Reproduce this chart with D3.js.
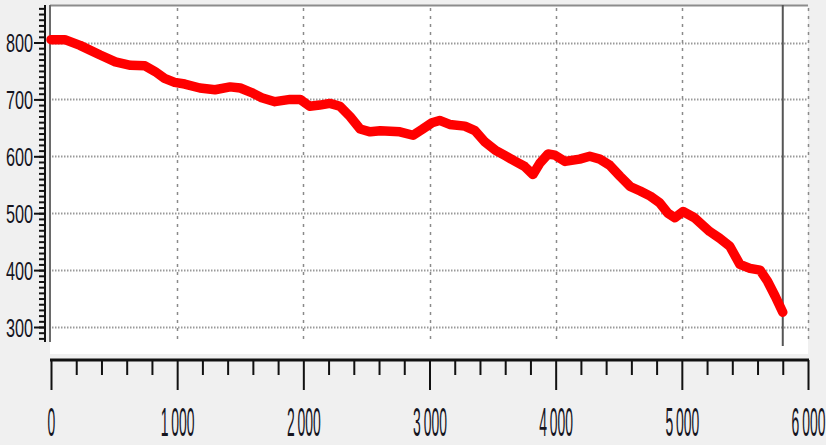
<!DOCTYPE html>
<html>
<head>
<meta charset="utf-8">
<style>
  body { margin: 0; background: #f0f0f0; }
  svg { display: block; }
</style>
</head>
<body>
<script src="https://d3js.org/d3.v7.min.js"></script>
<script>
// distance along the profile and the measured value at each point
const distance = [0, 110, 230, 390, 510, 630, 745, 825, 900, 980, 1060, 1180, 1300, 1420, 1500,
  1590, 1670, 1775, 1895, 1975, 2050, 2130, 2210, 2290, 2370, 2450, 2530, 2610, 2765, 2870,
  2940, 3020, 3080, 3160, 3280, 3360, 3440, 3520, 3600, 3680, 3755, 3820, 3875, 3940, 3995,
  4075, 4190, 4270, 4350, 4430, 4510, 4590, 4670, 4750, 4825, 4890, 4945, 5010, 5100, 5220,
  5300, 5380, 5460, 5540, 5620, 5680, 5740, 5800];
const values = [805, 805, 795, 778, 766, 760, 759, 749, 737, 730, 727, 720, 717, 722, 720,
  712, 703, 696, 700, 700, 688, 690, 693, 688, 670, 648, 643, 645, 643, 637,
  647, 659, 663, 656, 653, 645, 625, 611, 601, 591, 582, 568, 588, 604, 602,
  591, 595, 600, 595, 584, 565, 547, 539, 530, 518, 500, 492, 503, 492, 468,
  456, 442, 410, 403, 400, 380, 354, 326];
const cursorAt = 5800;

const xTicks = [0, 1000, 2000, 3000, 4000, 5000, 6000];
const xTickLabels = ["0", "1\u2009000", "2\u2009000", "3\u2009000", "4\u2009000", "5\u2009000", "6\u2009000"];
const yTicks = [300, 400, 500, 600, 700, 800];
const yTickLabels = ["300", "400", "500", "600", "700", "800"];

const width = 826, height = 445;
const plot = { left: 50, right: 808, top: 5, bottom: 342 };

const svg = d3.select("body").append("svg")
  .attr("width", width)
  .attr("height", height);

svg.append("rect").attr("width", width).attr("height", height).attr("fill", "#f0f0f0");

const x = d3.scaleLinear().domain([0, 6000]).range([51, 808]);
const y = d3.scaleLinear().domain([300, 800]).range([327, 42.5]);

// white plot area
svg.append("rect")
  .attr("x", plot.left).attr("y", plot.top)
  .attr("width", plot.right - plot.left)
  .attr("height", 354 - plot.top)
  .attr("fill", "#fff");

// grid
svg.append("g")
  .selectAll("line")
  .data(yTicks)
  .join("line")
    .attr("x1", plot.left + 2).attr("x2", plot.right)
    .attr("y1", d => Math.round(y(d)) + 0.5).attr("y2", d => Math.round(y(d)) + 0.5)
    .attr("stroke", "#9a9a9a")
    .attr("stroke-width", 2)
    .attr("stroke-dasharray", "1.5,1.5");

svg.append("g")
  .selectAll("line")
  .data(xTicks.slice(1))
  .join("line")
    .attr("x1", d => Math.round(x(d)) + 0.5).attr("x2", d => Math.round(x(d)) + 0.5)
    .attr("y1", plot.top + 3).attr("y2", plot.bottom)
    .attr("stroke", "#8a8a8a")
    .attr("stroke-width", 1.5)
    .attr("stroke-dasharray", "3,5");

// frame: top and left border
svg.append("line")
  .attr("x1", plot.left).attr("x2", plot.right)
  .attr("y1", plot.top + 0.5).attr("y2", plot.top + 0.5)
  .attr("stroke", "#8c8c8c").attr("stroke-width", 2);
svg.append("line")
  .attr("x1", plot.left).attr("x2", plot.left)
  .attr("y1", plot.top).attr("y2", plot.bottom)
  .attr("stroke", "#6a6a6a").attr("stroke-width", 2);

// cursor line
svg.append("line")
  .attr("x1", x(cursorAt)).attr("x2", x(cursorAt))
  .attr("y1", plot.top).attr("y2", plot.bottom + 4)
  .attr("stroke", "#555").attr("stroke-width", 2);

// data line
const line = d3.line().x((d, i) => x(distance[i])).y(d => y(d));
svg.append("path")
  .datum(values)
  .attr("d", line)
  .attr("fill", "none")
  .attr("stroke", "#ff0000")
  .attr("stroke-width", 9.5)
  .attr("stroke-linejoin", "round")
  .attr("stroke-linecap", "round");

// y axis (left): minor and major ticks
const yMinor = d3.range(280, 870, 10).filter(v => y(v) >= plot.top && y(v) <= plot.bottom);
const yAxisG = svg.append("g").attr("transform", "translate(45,0)");
yAxisG.append("g")
  .call(d3.axisLeft(y).tickValues(yMinor).tickSize(6).tickFormat(""))
  .call(g => g.select(".domain").remove());
yAxisG.append("g")
  .call(d3.axisLeft(y).tickValues(yTicks).tickSize(11).tickFormat((d, i) => yTickLabels[i]))
  .call(g => g.select(".domain").remove())
  .call(g => g.selectAll("text")
    .attr("x", null).attr("dy", null)
    .attr("transform", "translate(-12,9) scale(0.65,1)")
    .attr("font-family", "Liberation Sans, Arial, sans-serif")
    .attr("font-size", 25)
    .attr("fill", "#15151f"));
yAxisG.selectAll(".tick line").attr("stroke", "#111").attr("stroke-width", 2);
yAxisG.append("line")
  .attr("x1", 0).attr("x2", 0)
  .attr("y1", plot.top).attr("y2", plot.bottom)
  .attr("stroke", "#111").attr("stroke-width", 2);

// x axis (bottom): minor and major ticks
const xMinor = d3.range(0, 6001, 200).filter(v => v % 1000 !== 0);
const xAxisG = svg.append("g").attr("transform", "translate(0,360)");
xAxisG.append("g")
  .call(d3.axisBottom(x).tickValues(xMinor).tickSize(15).tickFormat(""))
  .call(g => g.select(".domain").remove());
xAxisG.append("g")
  .call(d3.axisBottom(x).tickValues(xTicks).tickSize(30).tickFormat((d, i) => xTickLabels[i]))
  .call(g => g.select(".domain").remove())
  .call(g => g.selectAll("text")
    .attr("y", null).attr("dy", null)
    .attr("text-anchor", "middle")
    .attr("transform", "translate(0,76) scale(0.34,1)")
    .attr("font-family", "Liberation Sans, Arial, sans-serif")
    .attr("font-size", 41)
    .attr("fill", "#15151f"));
xAxisG.selectAll(".tick line").attr("stroke", "#111").attr("stroke-width", 2);
xAxisG.append("line")
  .attr("x1", 50).attr("x2", 809)
  .attr("y1", 0).attr("y2", 0)
  .attr("stroke", "#111").attr("stroke-width", 3);
</script>
</body>
</html>
